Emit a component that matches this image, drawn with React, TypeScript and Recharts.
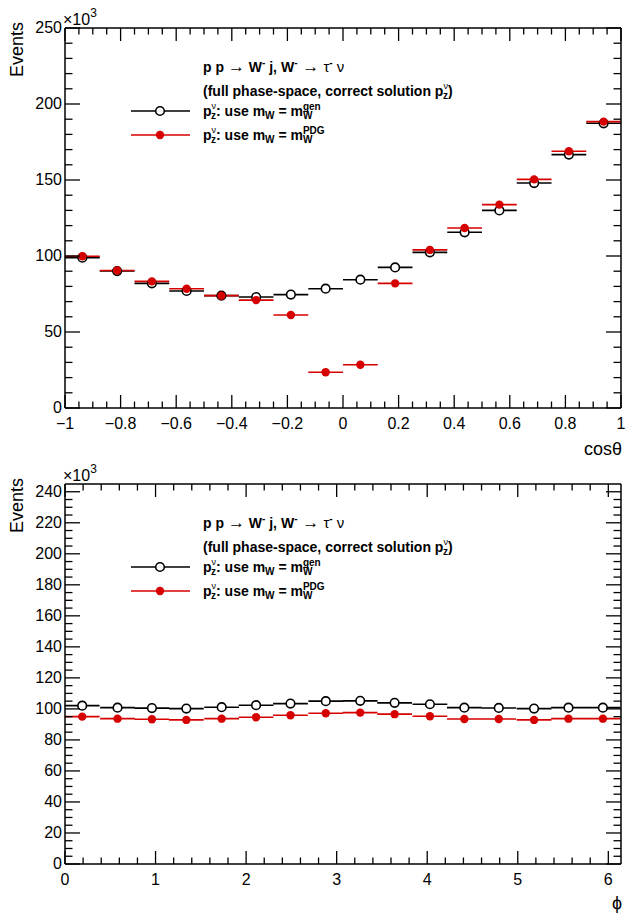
import React from 'react';
import { ScatterChart, Scatter, XAxis, YAxis, ErrorBar } from 'recharts';

const FONT = '"Liberation Sans", Arial, Helvetica, sans-serif';
const RED = '#d60000';
const W = 625;

// cos(theta): 16 bins on [-1, 1], values in units of 10^3 events
const cosCenters = [-0.9375, -0.8125, -0.6875, -0.5625, -0.4375, -0.3125, -0.1875, -0.0625,
  0.0625, 0.1875, 0.3125, 0.4375, 0.5625, 0.6875, 0.8125, 0.9375];
const cosHalfWidth = 0.0625;
const cosGen = [98.9, 90.1, 82.0, 77.0, 73.9, 73.0, 74.6, 78.5, 84.4, 92.5, 102.4, 115.6, 130.0, 148.0, 166.7, 187.3];
const cosPdg = [99.8, 90.5, 83.3, 78.5, 73.9, 71.0, 61.2, 23.5, 28.5, 82.0, 104.0, 118.4, 133.8, 150.4, 168.9, 188.4];
const cosXMajor = [-1, -0.8, -0.6, -0.4, -0.2, 0, 0.2, 0.4, 0.6, 0.8, 1];
const cosYMajor = [0, 50, 100, 150, 200, 250];

// phi: 16 bins
const phiCenters = [0.19, 0.58, 0.96, 1.34, 1.73, 2.11, 2.49, 2.88, 3.26, 3.64, 4.03, 4.41, 4.79, 5.18, 5.56, 5.94];
const phiHalfWidth = 0.192;
const phiGen = [102.1, 100.8, 100.5, 100.2, 101.1, 102.4, 103.4, 105.0, 105.2, 103.9, 103.0, 100.8, 100.6, 100.2, 100.8, 100.8];
const phiPdg = [95.0, 93.7, 93.3, 92.9, 93.7, 94.6, 95.9, 97.2, 97.6, 96.6, 95.3, 93.5, 93.5, 92.9, 93.7, 93.7];
const phiXMajor = [0, 1, 2, 3, 4, 5, 6];
const phiYMajor = [0, 20, 40, 60, 80, 100, 120, 140, 160, 180, 200, 220, 240];

const toPoints = (xs: number[], ys: number[], ex: number) => xs.map((x, i) => ({ x, y: ys[i], ex }));

function withMinor(lo: number, hi: number, step: number) {
  const out: number[] = [];
  const n = Math.round((hi - lo) / step);
  for (let i = 0; i <= n; i++) out.push(+(lo + i * step).toFixed(6));
  return out;
}

const fmt = (v: number) => {
  if (Math.abs(v) < 1e-9) return '0';
  const s = Number.isInteger(v) ? String(Math.abs(v)) : Math.abs(v).toFixed(1);
  return v < 0 ? '\u2212' + s : s;
};

const TICK_STROKE = { stroke: '#000', strokeWidth: 1.3 };

// bottom axis ticks, mirrored on the top edge of the frame (ROOT style, pointing inward)
function bottomTick(major: number[], len: number, frameTop: number) {
  return (props: any) => {
    const { x, y, payload } = props;
    const v = payload.value;
    const isMajor = major.some((m) => Math.abs(m - v) < 1e-6);
    const l = isMajor ? len : len / 2;
    return (
      <g>
        <path d={`M${x},${y}V${y - l}`} {...TICK_STROKE} />
        <path d={`M${x},${frameTop}V${frameTop + l}`} {...TICK_STROKE} />
        {isMajor && (
          <text x={x} y={y + 21} textAnchor="middle" fontSize={16} fontFamily={FONT} fill="#000">{fmt(v)}</text>
        )}
      </g>
    );
  };
}

// left axis ticks, mirrored on the right edge of the frame
function leftTick(major: number[], len: number, frameRight: number) {
  return (props: any) => {
    const { x, y, payload } = props;
    const v = payload.value;
    const isMajor = major.some((m) => Math.abs(m - v) < 1e-6);
    const l = isMajor ? len : len / 2;
    return (
      <g>
        <path d={`M${x},${y}H${x + l}`} {...TICK_STROKE} />
        <path d={`M${frameRight},${y}H${frameRight - l}`} {...TICK_STROKE} />
        {isMajor && (
          <text x={x - 3} y={y + 5} textAnchor="end" fontSize={16} fontFamily={FONT} fill="#000">{fmt(v)}</text>
        )}
      </g>
    );
  };
}

const openCircle = (p: any) => <circle cx={p.cx} cy={p.cy} r={4.3} fill="#fff" stroke="#000" strokeWidth={1.6} />;
const fullCircle = (p: any) => <circle cx={p.cx} cy={p.cy} r={4.2} fill={RED} />;

const axisLine = { stroke: '#000', strokeWidth: 1.5 };

function Legend({ top }: { top: number }) {
  const r1 = top + 83;
  const r2 = top + 107;
  return (
    <g fontFamily={FONT} fontWeight="bold" fontSize={14} fill="#000">
      <text x={203} y={top + 44}>
        p p <tspan fontWeight="normal" fontSize={17}>{'\u2192'}</tspan> W<tspan fontSize={10} dy={-6}>-</tspan>
        <tspan dy={6}> j, W</tspan><tspan fontSize={10} dy={-6}>-</tspan>
        <tspan dy={6} fontWeight="normal" fontSize={17}> {'\u2192'}</tspan>
        <tspan dy={0} fontWeight="normal" fontSize={15}> {'\u03c4'}</tspan><tspan fontSize={10} dy={-6}>-</tspan>
        <tspan dy={6} fontWeight="normal" fontSize={15}> {'\u03bd'}</tspan>
      </text>
      <text x={203} y={top + 68}>
        (full phase-space, correct solution p<tspan fontSize={9} dy={-7} fontWeight="normal">{'\u03bd'}</tspan>
        <tspan fontSize={10} dx={-5} dy={10}>z</tspan><tspan dy={-3}>)</tspan>
      </text>

      <line x1={131} x2={190} y1={r1} y2={r1} stroke="#000" strokeWidth={1.5} />
      <circle cx={160} cy={r1} r={4.3} fill="#fff" stroke="#000" strokeWidth={1.6} />
      <text x={203} y={r1 + 5}>
        p<tspan fontSize={9} dy={-7} fontWeight="normal">{'\u03bd'}</tspan>
        <tspan fontSize={10} dx={-5} dy={10}>z</tspan><tspan dy={-3}>: use m</tspan>
        <tspan fontSize={10} dy={3}>W</tspan><tspan dy={-3}> = m</tspan>
        <tspan fontSize={10} dy={-6}>gen</tspan><tspan fontSize={10} dx={-17.8} dy={9}>W</tspan>
      </text>

      <line x1={131} x2={190} y1={r2} y2={r2} stroke={RED} strokeWidth={1.5} />
      <circle cx={160} cy={r2} r={4.2} fill={RED} />
      <text x={203} y={r2 + 5}>
        p<tspan fontSize={9} dy={-7} fontWeight="normal">{'\u03bd'}</tspan>
        <tspan fontSize={10} dx={-5} dy={10}>z</tspan><tspan dy={-3}>: use m</tspan>
        <tspan fontSize={10} dy={3}>W</tspan><tspan dy={-3}> = m</tspan>
        <tspan fontSize={10} dy={-6}>PDG</tspan><tspan fontSize={10} dx={-21.7} dy={9}>W</tspan>
      </text>
    </g>
  );
}

type PanelProps = {
  height: number;
  top: number;
  bottomAxis: number;
  xDomain: [number, number];
  xMajor: number[];
  xMinorStep: number;
  yDomain: [number, number];
  yMajor: number[];
  yMinorStep: number;
  gen: { x: number; y: number; ex: number }[];
  pdg: { x: number; y: number; ex: number }[];
  xTitle: string;
  xTitleY: number;
};

function Panel(p: PanelProps) {
  const rightMargin = 3;
  const frameRight = W - rightMargin - 1;
  const xTicks = withMinor(p.xMajor[0], p.xMajor[p.xMajor.length - 1], p.xMinorStep).filter((t) => t <= p.xDomain[1]);
  const yTicks = withMinor(p.yMajor[0], p.yMajor[p.yMajor.length - 1], p.yMinorStep).filter((t) => t <= p.yDomain[1]);
  const common = { tickLine: false, tickSize: 0, tickMargin: 0, interval: 0 as const, allowDataOverflow: true, axisLine };
  return (
    <div style={{ position: 'relative', width: W, height: p.height }}>
      <ScatterChart width={W} height={p.height} margin={{ top: p.top - 1, right: rightMargin, bottom: 0, left: 0 }}>
        <XAxis xAxisId="b" type="number" dataKey="x" domain={p.xDomain} ticks={xTicks} height={p.bottomAxis}
          tick={bottomTick(p.xMajor, 13, p.top)} {...common} />
        <XAxis xAxisId="t" orientation="top" type="number" dataKey="x" domain={p.xDomain} height={1}
          tick={false} {...common} />
        <YAxis yAxisId="l" type="number" dataKey="y" domain={p.yDomain} ticks={yTicks} width={65}
          tick={leftTick(p.yMajor, 15, frameRight)} {...common} />
        <YAxis yAxisId="r" orientation="right" type="number" dataKey="y" domain={p.yDomain} width={1}
          tick={false} {...common} />
        <Scatter xAxisId="b" yAxisId="l" data={p.gen} shape={openCircle} isAnimationActive={false}>
          <ErrorBar dataKey="ex" direction="x" width={0} stroke="#000" strokeWidth={1.6} />
        </Scatter>
        <Scatter xAxisId="b" yAxisId="l" data={p.pdg} shape={fullCircle} isAnimationActive={false}>
          <ErrorBar dataKey="ex" direction="x" width={0} stroke={RED} strokeWidth={1.6} />
        </Scatter>
      </ScatterChart>
      <svg width={W} height={p.height} style={{ position: 'absolute', left: 0, top: 0, pointerEvents: 'none' }}>
        <text x={63} y={p.top - 3} fontFamily={FONT} fontSize={16} fill="#000">
          {'\u00d7'}10<tspan fontSize={12} dy={-8}>3</tspan>
        </text>
        <text x={23} y={p.top - 6} transform={`rotate(-90 23 ${p.top - 6})`} textAnchor="end"
          fontFamily={FONT} fontSize={18} fill="#000">Events</text>
        <text x={622} y={p.xTitleY} textAnchor="end" fontFamily={FONT} fontSize={18} fill="#000">{p.xTitle}</text>
        <Legend top={p.top} />
      </svg>
    </div>
  );
}

export default function App() {
  return (
    <div style={{ position: 'absolute', left: 0, top: 0, width: W, height: 915, background: '#fff' }}>
      <Panel height={458} top={28} bottomAxis={50} xDomain={[-1, 1]} xMajor={cosXMajor} xMinorStep={0.05}
        yDomain={[0, 250]} yMajor={cosYMajor} yMinorStep={10}
        gen={toPoints(cosCenters, cosGen, cosHalfWidth)} pdg={toPoints(cosCenters, cosPdg, cosHalfWidth)}
        xTitle={'cos\u03b8'} xTitleY={455} />
      <Panel height={457} top={26} bottomAxis={51} xDomain={[0, 6.14]} xMajor={phiXMajor} xMinorStep={0.2}
        yDomain={[0, 245]} yMajor={phiYMajor} yMinorStep={5}
        gen={toPoints(phiCenters, phiGen, phiHalfWidth)} pdg={toPoints(phiCenters, phiPdg, phiHalfWidth)}
        xTitle={'\u03d5'} xTitleY={451} />
    </div>
  );
}
